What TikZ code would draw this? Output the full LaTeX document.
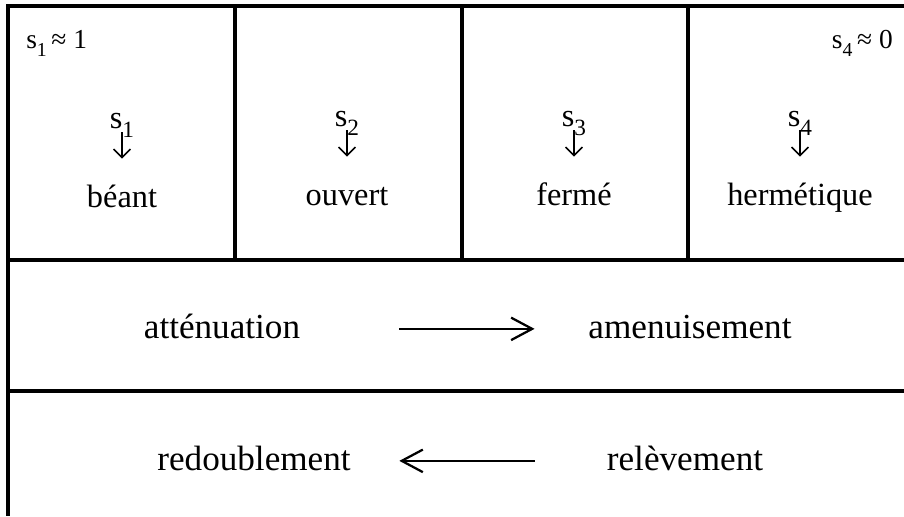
\documentclass[tikz,border=0pt]{standalone}
\usepackage{fontspec}
\setmainfont{Liberation Serif}
\usepackage{graphicx}
\usepackage{tikz}
\usetikzlibrary{arrows.meta}
\newcommand\idx[1]{\raisebox{-0.3em}{\scalebox{0.72}{#1}}}
\tikzset{
  cellline/.style = { line width=2.4pt },
  word/.style     = { font=\fontsize{23}{27}\selectfont, inner sep=0pt, text height=15pt, text depth=5pt },
  bigword/.style  = { font=\fontsize{25}{30}\selectfont, inner sep=0pt, text height=18pt, text depth=5pt },
  index/.style    = { font=\fontsize{23}{27}\selectfont, inner sep=0pt },
  corner/.style   = { font=\fontsize{19.5}{23}\selectfont, inner sep=0pt },
  drop/.style     = { line width=1.1pt, -{Straight Barb[length=6pt,width=12pt]}, shorten <=0.1cm, shorten >=0.675cm },
  flow/.style     = { line width=1.6pt, -{Straight Barb[length=15pt,width=16pt]} }
}

\begin{document}
\begin{tikzpicture}[x=0.025cm,y=-0.025cm]
\useasboundingbox (0,0) rectangle (904,516);
% frame and rows
\draw[cellline] (904,6) -- (8,6) -- (8,516);
\draw[cellline] (8,260) -- (904,260);
\draw[cellline] (8,391) -- (904,391);
\draw[cellline] (235,6) -- (235,260);
\draw[cellline] (462,6) -- (462,260);
\draw[cellline] (688,6) -- (688,260);
% first row
\node[corner, anchor=base west] (lim1) at (26,48) {s\idx{1}\,≈ 1};
\node[corner, anchor=base east] (lim4) at (893,48) {s\idx{4}\,≈ 0};
\node[index, anchor=base] (s1) at (122,128) {s\idx{1}};
\node[index, anchor=base] (s2) at (347,126) {s\idx{2}};
\node[index, anchor=base] (s3) at (574,126) {s\idx{3}};
\node[index, anchor=base] (s4) at (800,126) {s\idx{4}};
\node[word, anchor=base] (w1) at (122,207) {béant};
\node[word, anchor=base] (w2) at (347,205) {ouvert};
\node[word, anchor=base] (w3) at (574,205) {fermé};
\node[word, anchor=base] (w4) at (800,205) {hermétique};
\draw[drop] (s1.base) -- (w1.north);
\draw[drop] (s2.base) -- (w2.north);
\draw[drop] (s3.base) -- (w3.north);
\draw[drop] (s4.base) -- (w4.north);
% second row
\node[bigword, anchor=base] (atten) at (222,338) {atténuation};
\node[bigword, anchor=base] (amenu) at (690,338) {amenuisement};
\draw[flow, shorten <=2.475cm, shorten >=1.34cm] (atten.east) -- (amenu.west);
% third row
\node[bigword, anchor=base] (redoub) at (254,470) {redoublement};
\node[bigword, anchor=base] (relev) at (685,470) {relèvement};
\draw[flow, shorten <=1.8cm, shorten >=1.21cm] (relev.west) -- (redoub.east);
\end{tikzpicture}
\end{document}
